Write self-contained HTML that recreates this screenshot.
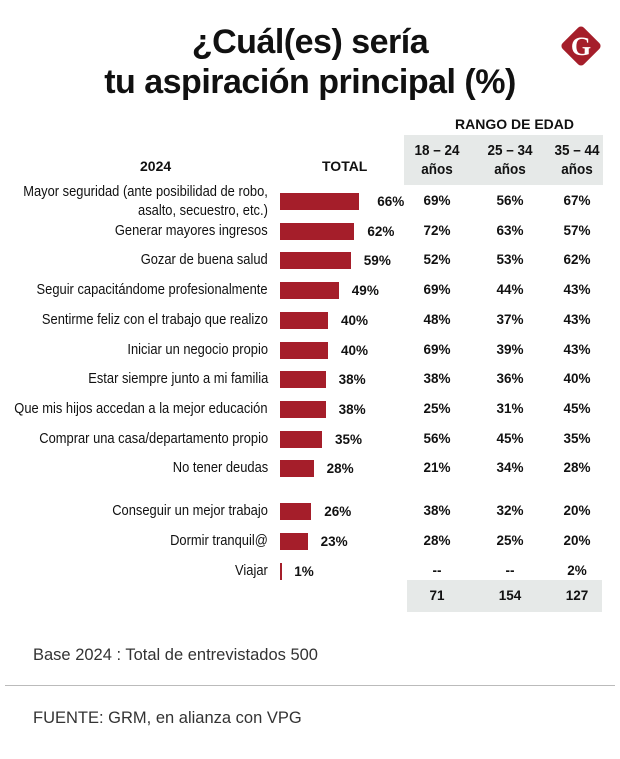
<!DOCTYPE html>
<html><head><meta charset="utf-8"><style>
body{margin:0;width:620px;height:759px;background:#fff;font-family:"Liberation Sans",sans-serif;color:#111;position:relative;overflow:hidden}
.t{position:absolute;white-space:nowrap}
#title{left:0;width:620px;text-align:center;top:22px;font-family:"Liberation Sans",sans-serif;font-weight:bold;font-size:34px;line-height:40px;letter-spacing:-0.5px}
.hd{font-family:"Liberation Sans",sans-serif;font-weight:bold;font-size:14px}
.lab{font-size:14.5px;text-align:right;right:352px;transform:scaleX(0.89);transform-origin:right center}
.val{font-family:"Liberation Sans",sans-serif;font-weight:bold;font-size:13.5px}
.age{font-family:"Liberation Sans",sans-serif;font-weight:bold;font-size:13.5px;width:60px;text-align:center}
.bar{position:absolute;background:#a51e2a;height:17px;left:280px}
</style></head><body>
<div id="title" class="t">¿Cuál(es) sería<br>tu aspiración principal (%)</div>
<svg style="position:absolute;left:557px;top:22px" width="48" height="48"><rect x="9" y="9" width="30" height="30" rx="4" fill="#a51e2a" transform="rotate(45 24 24)"/><text x="24" y="33" text-anchor="middle" font-family="Liberation Serif" font-weight="bold" font-size="26" fill="#fff">G</text></svg>
<div class="t hd" style="left:455px;top:116px">RANGO DE EDAD</div>
<div style="position:absolute;left:404px;top:135px;width:199px;height:50px;background:#e6e9e8"></div>
<div style="position:absolute;left:407px;top:580px;width:195px;height:32px;background:#e6e9e8"></div>
<div class="t hd" style="left:140px;top:158px">2024</div>
<div class="t hd" style="left:322px;top:158px">TOTAL</div>
<div id="rows"></div>
<div class="t" style="left:33px;top:646px;font-family:'Liberation Sans',sans-serif;font-size:16.5px;color:#333">Base 2024 : Total de entrevistados 500</div>
<div style="position:absolute;left:5px;top:685px;width:610px;height:1px;background:#bbb"></div>
<div class="t" style="left:33px;top:709px;font-family:'Liberation Sans',sans-serif;font-size:16.5px;color:#333">FUENTE: GRM, en alianza con VPG</div>
<script>
const categories=["Mayor seguridad (ante posibilidad de robo,|asalto, secuestro, etc.)","Generar mayores ingresos","Gozar de buena salud","Seguir capacitándome profesionalmente","Sentirme feliz con el trabajo que realizo","Iniciar un negocio propio","Estar siempre junto a mi familia","Que mis hijos accedan a la mejor educación","Comprar una casa/departamento propio","No tener deudas","Conseguir un mejor trabajo","Dormir tranquil@","Viajar"];
const totals=[66,62,59,49,40,40,38,38,35,28,26,23,1];
const age1824=["69%","72%","52%","69%","48%","69%","38%","25%","56%","21%","38%","28%","--"];
const age2534=["56%","63%","53%","44%","37%","39%","36%","31%","45%","34%","32%","25%","--"];
const age3544=["67%","57%","62%","43%","43%","43%","40%","45%","35%","28%","20%","20%","2%"];
const ageHeaders=["18 – 24|años","25 – 34|años","35 – 44|años"];
const bases=["71","154","127"];
const colX=[407,480,547];
const rows=document.getElementById('rows');
function rowY(i){return i<10?201+i*29.7:511+(i-10)*30;}
function xs(v){return v*1.2;}
function add(cls,style,html,name){const d=document.createElement('div');d.className=cls;d.setAttribute('style',style);d.innerHTML=html;


rows.appendChild(d);return d;}
ageHeaders.forEach((h,j)=>{const p=h.split('|');add('t age',`left:${colX[j]}px;top:141px;font-size:15px;line-height:19px;transform:scaleX(0.9)`,p[0]+'<br>'+p[1],'age-header');});
bases.forEach((b,j)=>add('t age',`left:${colX[j]}px;top:588px`,b,'base-count'));
categories.forEach((c,i)=>{const y=rowY(i);const p=c.split('|');
if(p.length>1)add('t lab',`top:${y-18}px;line-height:19px`,p[0]+'<br>'+p[1],'category-label');
else add('t lab',`top:${y-8}px`,c,'category-label');
const w=xs(totals[i]);
add('bar',`top:${y-8}px;width:${Math.max(w,2)}px`,'','bar-total');
add('t val',`left:${280+w+(i==0?18:13)}px;top:${y-7}px`,totals[i]+'%','total-value');
[age1824,age2534,age3544].forEach((a,j)=>add('t age',`left:${colX[j]}px;top:${y-8}px`,a[i],'age-value'));
});
</script>
</body></html>
